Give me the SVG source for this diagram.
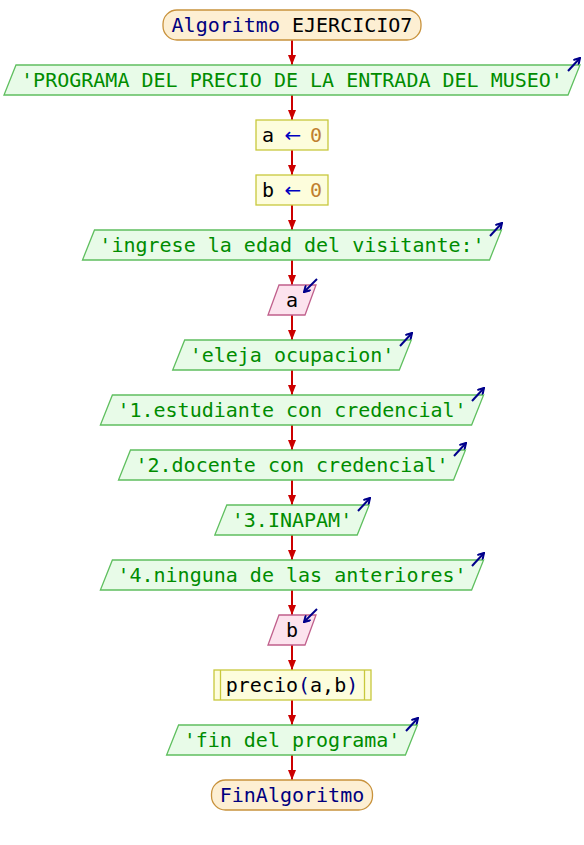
<svg xmlns="http://www.w3.org/2000/svg" width="584" height="845" viewBox="0 0 584 845">
<defs>
<style>
text{font-family:"DejaVu Sans Mono","Liberation Mono",monospace;font-size:20px}
.term{fill:#fdefd3;stroke:#c8923c;stroke-width:1.3}
.out{fill:#e8fbe8;stroke:#5fbf5f;stroke-width:1.3}
.inp{fill:#fce3ee;stroke:#c0608c;stroke-width:1.3}
.proc{fill:#fdfddc;stroke:#c8c83c;stroke-width:1.3}
.str{fill:#008c00}
.kw{fill:#00007f}
.var{fill:#000000}
.op{fill:#0000c0}
.num{fill:#c08030}
.edge{stroke:#cc0000;stroke-width:2;fill:none;marker-end:url(#ah)}
.io{stroke:#00008b;stroke-width:2;fill:none;marker-end:url(#bh)}
</style>
<marker id="ah" viewBox="0 0 10 8" refX="10" refY="4" markerWidth="10" markerHeight="8" markerUnits="userSpaceOnUse" orient="auto">
<path d="M0,0 L10,4 L0,8 z" fill="#cc0000"/>
</marker>
<marker id="bh" viewBox="0 0 8 8" refX="7" refY="4" markerWidth="8" markerHeight="8" markerUnits="userSpaceOnUse" orient="auto">
<path d="M1,0.5 L7,4 L1,7.5" fill="none" stroke="#00008b" stroke-width="2"/>
</marker>
</defs>
<rect width="584" height="845" fill="#ffffff"/>
<g id="connectors">
<line class="edge" x1="292" y1="40" x2="292" y2="65"/>
<line class="edge" x1="292" y1="95" x2="292" y2="120"/>
<line class="edge" x1="292" y1="150" x2="292" y2="175"/>
<line class="edge" x1="292" y1="205" x2="292" y2="230"/>
<line class="edge" x1="292" y1="260" x2="292" y2="285"/>
<line class="edge" x1="292" y1="315" x2="292" y2="340"/>
<line class="edge" x1="292" y1="370" x2="292" y2="395"/>
<line class="edge" x1="292" y1="425" x2="292" y2="450"/>
<line class="edge" x1="292" y1="480" x2="292" y2="505"/>
<line class="edge" x1="292" y1="535" x2="292" y2="560"/>
<line class="edge" x1="292" y1="590" x2="292" y2="615"/>
<line class="edge" x1="292" y1="645" x2="292" y2="670"/>
<line class="edge" x1="292" y1="700" x2="292" y2="725"/>
<line class="edge" x1="292" y1="755" x2="292" y2="780"/>
</g>
<g id="start">
<rect class="term" x="163" y="10" width="258" height="30" rx="14"/>
<text x="292" y="32" text-anchor="middle"><tspan class="kw">Algoritmo</tspan><tspan class="var"> EJERCICIO7</tspan></text>
</g>
<g id="out1">
<polygon class="out" points="16,65 580,65 568,95 4,95"/>
<text class="str" x="292" y="87" text-anchor="middle">'PROGRAMA DEL PRECIO DE LA ENTRADA DEL MUSEO'</text>
<line class="io" x1="568" y1="71" x2="580" y2="58"/>
</g>
<g id="assign_a">
<rect class="proc" x="256" y="120" width="72" height="30"/>
<text class="var" x="262" y="142">a</text>
<text class="op" x="293" y="142" text-anchor="middle" style="font-family:'DejaVu Sans',sans-serif">←</text>
<text class="num" x="310" y="142">0</text>
</g>
<g id="assign_b">
<rect class="proc" x="256" y="175" width="72" height="30"/>
<text class="var" x="262" y="197">b</text>
<text class="op" x="293" y="197" text-anchor="middle" style="font-family:'DejaVu Sans',sans-serif">←</text>
<text class="num" x="310" y="197">0</text>
</g>
<g id="out2">
<polygon class="out" points="94.5,230 501.5,230 489.5,260 82.5,260"/>
<text class="str" x="292" y="252" text-anchor="middle">'ingrese la edad del visitante:'</text>
<line class="io" x1="490" y1="236" x2="502" y2="223"/>
</g>
<g id="read_a">
<polygon class="inp" points="279,285 316,285 305,315 268,315"/>
<text class="var" x="292" y="307" text-anchor="middle">a</text>
<line class="io" x1="317" y1="279" x2="304" y2="292"/>
</g>
<g id="out3">
<polygon class="out" points="184.7,340 411.3,340 399.3,370 172.7,370"/>
<text class="str" x="292" y="362" text-anchor="middle">'eleja ocupacion'</text>
<line class="io" x1="400" y1="346" x2="412" y2="333"/>
</g>
<g id="out4">
<polygon class="out" points="112.4,395 483.6,395 471.6,425 100.4,425"/>
<text class="str" x="292" y="417" text-anchor="middle">'1.estudiante con credencial'</text>
<line class="io" x1="472" y1="401" x2="484" y2="388"/>
</g>
<g id="out5">
<polygon class="out" points="130.5,450 465.5,450 453.5,480 118.5,480"/>
<text class="str" x="292" y="472" text-anchor="middle">'2.docente con credencial'</text>
<line class="io" x1="454" y1="456" x2="466" y2="443"/>
</g>
<g id="out6">
<polygon class="out" points="226.8,505 369.2,505 357.2,535 214.8,535"/>
<text class="str" x="292" y="527" text-anchor="middle">'3.INAPAM'</text>
<line class="io" x1="358" y1="511" x2="370" y2="498"/>
</g>
<g id="out7">
<polygon class="out" points="112.4,560 483.6,560 471.6,590 100.4,590"/>
<text class="str" x="292" y="582" text-anchor="middle">'4.ninguna de las anteriores'</text>
<line class="io" x1="472" y1="566" x2="484" y2="553"/>
</g>
<g id="read_b">
<polygon class="inp" points="279,615 316,615 305,645 268,645"/>
<text class="var" x="292" y="637" text-anchor="middle">b</text>
<line class="io" x1="317" y1="609" x2="304" y2="622"/>
</g>
<g id="call_precio">
<rect class="proc" x="214" y="670" width="157" height="30"/>
<line class="proc" x1="220.5" y1="670" x2="220.5" y2="700"/>
<line class="proc" x1="364.5" y1="670" x2="364.5" y2="700"/>
<text x="292" y="692" text-anchor="middle"><tspan class="var">precio</tspan><tspan class="kw">(</tspan><tspan class="var">a,b</tspan><tspan class="kw">)</tspan></text>
</g>
<g id="out8">
<polygon class="out" points="178.6,725 417.4,725 405.4,755 166.6,755"/>
<text class="str" x="292" y="747" text-anchor="middle">'fin del programa'</text>
<line class="io" x1="406" y1="731" x2="418" y2="718"/>
</g>
<g id="end">
<rect class="term" x="211.5" y="780" width="161" height="30" rx="14"/>
<text class="kw" x="292" y="802" text-anchor="middle">FinAlgoritmo</text>
</g>
</svg>
